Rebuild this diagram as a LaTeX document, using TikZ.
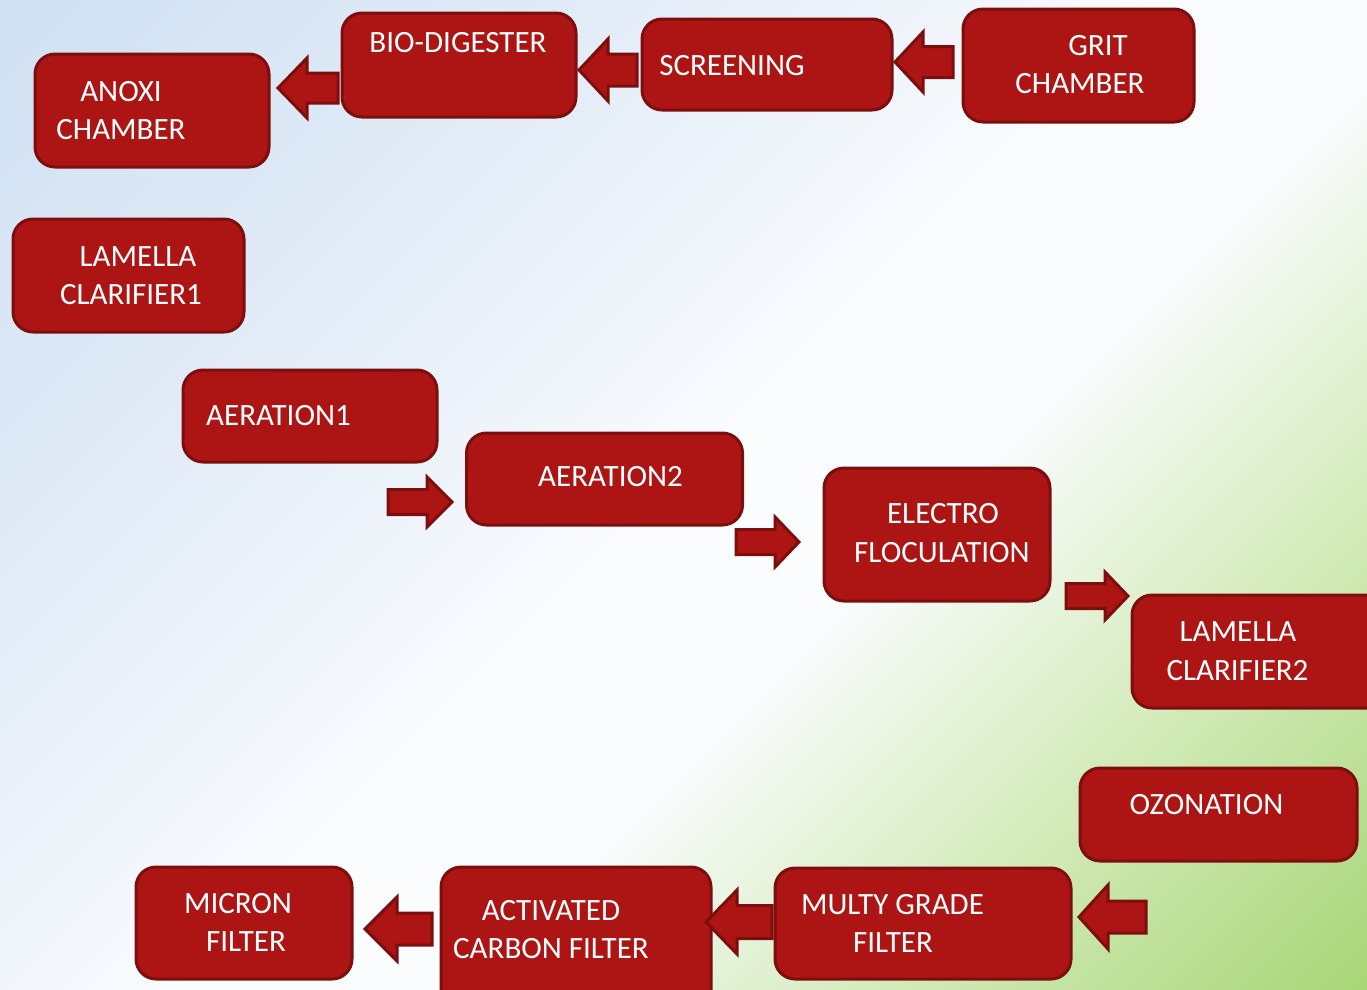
\documentclass[tikz,border=0pt]{standalone}
\usepackage{fontspec}
\setmainfont{Carlito}
\definecolor{bgA}{HTML}{CFE0F2}
\definecolor{bgB}{HTML}{E6EEF8}
\definecolor{bgC}{HTML}{FAFCFE}
\definecolor{bgD}{HTML}{D3EBBA}
\definecolor{bgE}{HTML}{A9D678}
\definecolor{boxfill}{HTML}{AD1515}
\definecolor{boxline}{HTML}{7D0E0E}
\pgfdeclarehorizontalshading{bgshade}{100bp}{color(0bp)=(bgA); color(14.64bp)=(bgA); color(36bp)=(bgB); color(50bp)=(bgC); color(58bp)=(bgC); color(71bp)=(bgD); color(85.36bp)=(bgE); color(100bp)=(bgE)}
\newcommand\pbox[5]{\node[pbox, minimum width={(#4-#2)*1pt}, minimum height={(#5-#3)*1pt}] (#1) at ({(#2+#4)/2},{(#3+#5)/2}) {};}
% name, tipx, tipy, headbase x, tail x, half head, half shaft
\newcommand\barrow[7]{\draw[barr] (#2,#3) coordinate (#1) -- (#4,#3-#6) -- (#4,#3-#7) -- (#5,#3-#7) -- (#5,#3+#7) -- (#4,#3+#7) -- (#4,#3+#6) -- cycle;}
\tikzset{
  pbox/.style={draw=boxline, fill=boxfill, line width=3pt, rounded corners=20pt, inner sep=0pt, outer sep=0pt},
  barr/.style={draw=boxline, fill=boxfill, line width=3pt, line join=miter},
  lbl/.style={anchor=base, text=white, inner sep=0pt, font=\fontsize{31}{38}\selectfont}
}
\begin{document}
\begin{tikzpicture}[x=1pt,y=-1pt]
\useasboundingbox (0,0) rectangle (1367,989);
\clip (0,0) rectangle (1367,989);
\shade[shading=bgshade, shading angle=-45] (0,0) rectangle (1367,989);
% boxes
\pbox{anoxi}{35}{54}{269}{167}
\pbox{bio}{342}{13}{576}{117}
\pbox{screen}{642}{19}{892}{110}
\pbox{grit}{963}{9}{1194}{122}
\pbox{lam1}{13}{219}{244}{332}
\pbox{aer1}{183}{370}{437}{462}
\pbox{aer2}{466.5}{433}{742.5}{525}
\pbox{electro}{824}{468}{1050}{601}
\pbox{lam2}{1132}{595}{1400}{708}
\pbox{ozone}{1080}{768}{1357}{861}
\pbox{multy}{775}{868}{1071}{979}
\pbox{carbon}{441}{867}{711}{1010}
\pbox{micron}{136}{867}{352}{979}
% arrows
\barrow{a1}{278}{88}{307}{338}{30}{15}
\barrow{a2}{579}{70}{608}{637}{31}{16}
\barrow{a3}{895}{62}{923}{953}{30}{15.5}
\barrow{a4}{452}{502}{427}{388}{25}{12.5}
\barrow{a5}{799}{542}{775}{736}{25}{12.5}
\barrow{a6}{1128}{596}{1105}{1066}{24}{12.5}
\barrow{a7}{1079}{917}{1108}{1146}{32}{16}
\barrow{a8}{706}{922}{737}{772}{32}{16.5}
\barrow{a9}{365}{929}{397}{432}{32}{16}
% labels
\node[lbl] (t1a) at (121,101.5) {ANOXI};
\node[lbl] (t1b) at (121,139.5) {CHAMBER};
\node[lbl] (t2) at (458,52) {BIO-DIGESTER};
\node[lbl] (t3) at (732,75) {SCREENING};
\node[lbl] (t4a) at (1098,55) {GRIT};
\node[lbl] (t4b) at (1080,93) {CHAMBER};
\node[lbl] (t5a) at (138,266) {LAMELLA};
\node[lbl] (t5b) at (131,304) {CLARIFIER1};
\node[lbl] (t6) at (278.5,425) {AERATION1};
\node[lbl] (t7) at (610.5,486) {AERATION2};
\node[lbl] (t8a) at (943,523) {ELECTRO};
\node[lbl] (t8b) at (942,562) {FLOCULATION};
\node[lbl] (t9a) at (1238,641.5) {LAMELLA};
\node[lbl] (t9b) at (1237.5,680) {CLARIFIER2};
\node[lbl] (t10) at (1206.5,814) {OZONATION};
\node[lbl] (t11a) at (892.5,914) {MULTY GRADE};
\node[lbl] (t11b) at (893,952) {FILTER};
\node[lbl] (t12a) at (551,920) {ACTIVATED};
\node[lbl] (t12b) at (551,958) {CARBON FILTER};
\node[lbl] (t13a) at (238,913) {MICRON};
\node[lbl] (t13b) at (246,951) {FILTER};
\end{tikzpicture}
\end{document}
